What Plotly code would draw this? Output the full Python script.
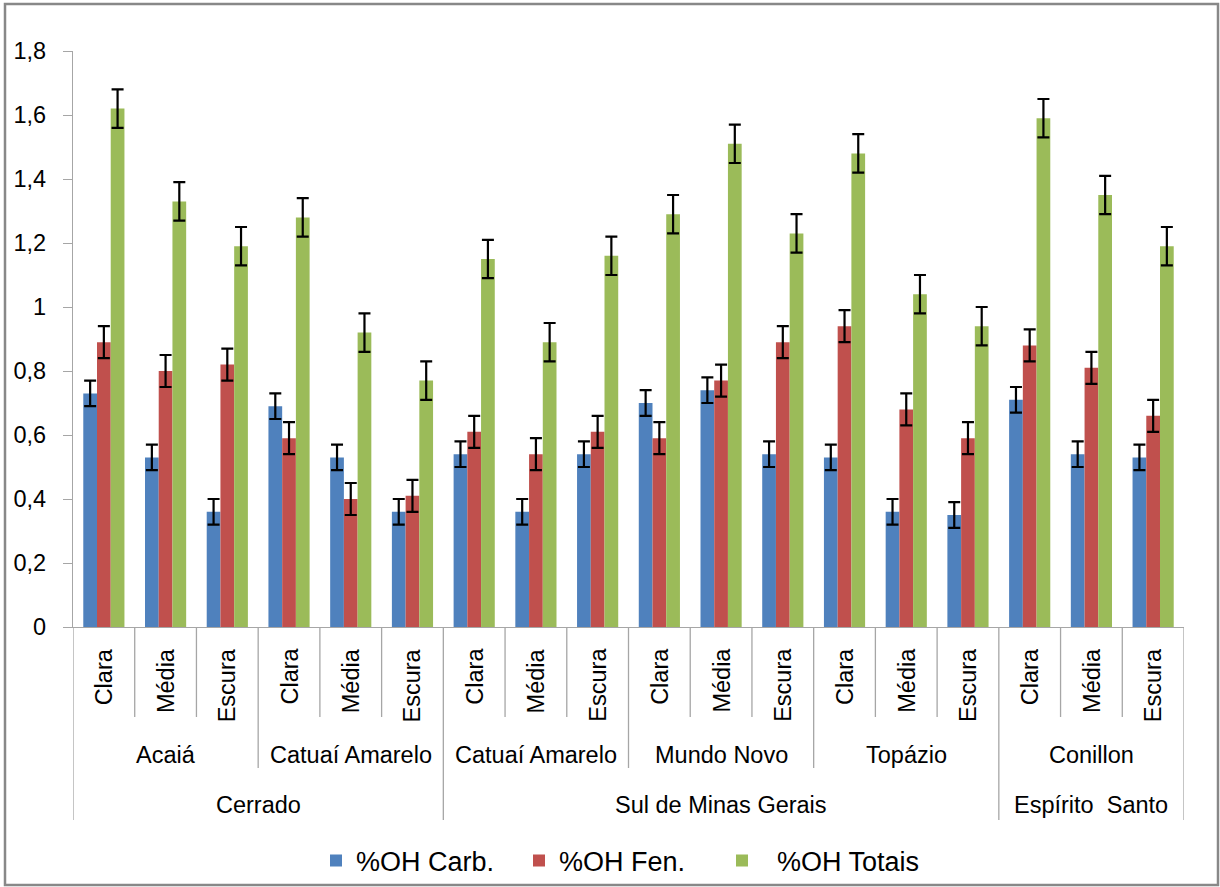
import plotly.graph_objects as go

# ---------------- data ----------------
regions = ["Cerrado", "Sul de Minas Gerais", "Espírito\u00a0\u00a0Santo"]
cultivars = ["Acaiá", "Catuaí Amarelo", "Catuaí Amarelo", "Mundo Novo", "Topázio", "Conillon"]
cultivar_region = [0, 0, 1, 1, 1, 2]
roasts = ["Clara", "Média", "Escura"]

series_names = ["%OH Carb.", "%OH Fen.", "\u00a0\u00a0%OH Totais"]
oh_carb = [0.73, 0.53, 0.36, 0.69, 0.53, 0.36, 0.54, 0.36, 0.54,
           0.70, 0.74, 0.54, 0.53, 0.36, 0.35, 0.71, 0.54, 0.53]
oh_fen = [0.89, 0.80, 0.82, 0.59, 0.40, 0.41, 0.61, 0.54, 0.61,
          0.59, 0.77, 0.89, 0.94, 0.68, 0.59, 0.88, 0.81, 0.66]
oh_totais = [1.62, 1.33, 1.19, 1.28, 0.92, 0.77, 1.15, 0.89, 1.16,
             1.29, 1.51, 1.23, 1.48, 1.04, 0.94, 1.59, 1.35, 1.19]
err_carb = [0.04] * 18
err_fen = [0.05] * 18
err_totais = [0.06] * 18

y_ticks = [0, 0.2, 0.4, 0.6, 0.8, 1.0, 1.2, 1.4, 1.6, 1.8]
y_tick_text = ["0", "0,2", "0,4", "0,6", "0,8", "1", "1,2", "1,4", "1,6", "1,8"]

colors = ["#4F81BD", "#C0504D", "#9BBB59"]

# ---------------- layout geometry ----------------
W, H = 1220, 887
L, R_PIX, T, B_PIX = 73, 1184, 51, 627
plot_h = B_PIX - T
plot_w = R_PIX - L


def py(p):  # pixel y -> paper y
    return (B_PIX - p) / plot_h


def px(p):  # pixel x -> paper x
    return (p - L) / plot_w


FONT = "Liberation Sans"
FS = 23.5
LEG_FS = 27

n = len(cultivars) * len(roasts)
x = list(range(n))

fig = go.Figure()
for name, vals, errs, col in zip(series_names, [oh_carb, oh_fen, oh_totais],
                                 [err_carb, err_fen, err_totais], colors):
    fig.add_trace(go.Bar(
        x=x, y=vals, name=name, marker=dict(color=col, line=dict(width=0)),
        error_y=dict(type="data", array=errs, visible=True, color="black",
                     thickness=2.2, width=6),
    ))

annotations = []
shapes = []

# roast labels
for i in range(n):
    annotations.append(dict(
        x=i, y=py(646), xref="x", yref="paper", text=roasts[i % 3],
        textangle=-90, showarrow=False, xanchor="center", yanchor="top",
        font=dict(family=FONT, size=FS, color="black")))

# cultivar labels
for c, name in enumerate(cultivars):
    annotations.append(dict(
        x=3 * c + 1, y=py(755), xref="x", yref="paper", text=name,
        showarrow=False, xanchor="center", yanchor="middle",
        font=dict(family=FONT, size=FS, color="black")))

# region labels
for r, name in enumerate(regions):
    idx = [c for c, rr in enumerate(cultivar_region) if rr == r]
    x0 = 3 * idx[0] - 0.5
    x1 = 3 * (idx[-1] + 1) - 0.5
    annotations.append(dict(
        x=(x0 + x1) / 2, y=py(805), xref="x", yref="paper", text=name,
        showarrow=False, xanchor="center", yanchor="middle",
        font=dict(family=FONT, size=FS, color="black")))

# separator lines
for i in range(n + 1):
    if i == 0 or i == n:
        bottom = 820
    elif i % 3 == 0:
        c = i // 3
        bottom = 820 if cultivar_region[c - 1] != cultivar_region[c] else 768
    else:
        bottom = 717
    shapes.append(dict(type="line", xref="x", yref="paper",
                       x0=i - 0.5, x1=i - 0.5, y0=0, y1=py(bottom),
                       line=dict(color="#A6A6A6", width=1.3)))

# chart border
shapes.append(dict(type="rect", xref="paper", yref="paper",
                   x0=px(5), x1=px(1218), y0=py(885), y1=py(4),
                   line=dict(color="#888888", width=2.5), fillcolor="rgba(0,0,0,0)"))

fig.update_layout(
    width=W, height=H,
    margin=dict(l=L, r=W - R_PIX, t=T, b=H - B_PIX, pad=0, autoexpand=False),
    paper_bgcolor="white", plot_bgcolor="white",
    barmode="group", bargap=0.333, bargroupgap=0,
    font=dict(family=FONT, size=FS, color="black"),
    xaxis=dict(range=[-0.5, n - 0.5], showticklabels=False, ticks="",
               showgrid=False, zeroline=False, showline=True,
               linecolor="#A6A6A6", linewidth=1.3, fixedrange=True),
    yaxis=dict(range=[0, 1.8], tickvals=y_ticks, ticktext=y_tick_text,
               ticks="outside", ticklen=9, tickcolor="#A6A6A6", tickwidth=1.3,
               showgrid=False, zeroline=False, showline=True,
               linecolor="#A6A6A6", linewidth=1.3, ticklabelstandoff=12,
               tickfont=dict(family=FONT, size=FS, color="black")),
    legend=dict(orientation="h", x=px(316), xanchor="left", y=py(861),
                yanchor="middle", font=dict(family=FONT, size=LEG_FS, color="black"),
                itemwidth=30, traceorder="normal", bgcolor="rgba(0,0,0,0)",
                entrywidth=158, entrywidthmode="pixels"),
    showlegend=True,
    annotations=annotations,
    shapes=shapes,
)

fig.write_html("out.html", post_script="document.body.style.margin='0px';",
               config={"displayModeBar": False})
